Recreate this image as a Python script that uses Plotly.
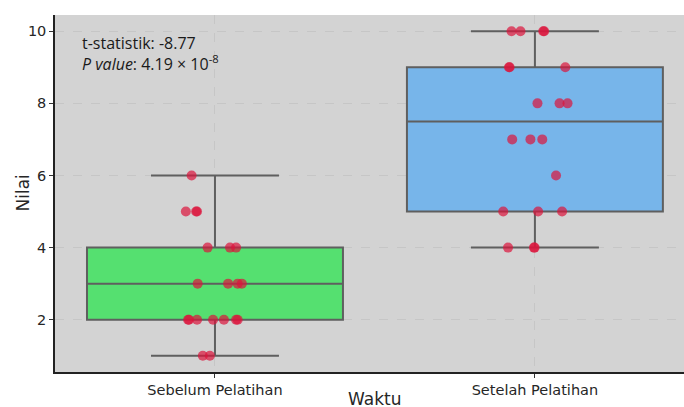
import numpy as np
import plotly.graph_objects as go

# Scores per group
categories = ["Sebelum Pelatihan", "Setelah Pelatihan"]
sebelum = [6, 5, 5, 5, 4, 4, 4, 3, 3, 3, 3, 2, 2, 2, 2, 2, 2, 2, 1, 1]
setelah = [10, 10, 10, 10, 9, 9, 9, 8, 8, 8, 7, 7, 7, 6, 5, 5, 5, 4, 4, 4]

# Horizontal jitter for the strip points (category units)
jitter_sebelum = [-0.073, -0.091, -0.059, -0.056, -0.023, 0.047, 0.066,
                  -0.054, 0.041, 0.071, 0.084,
                  -0.081, -0.084, -0.056, -0.006, 0.028, 0.066, 0.071,
                  -0.038, -0.016]
jitter_setelah = [-0.073, -0.045, 0.026, 0.029,
                  -0.081, -0.079, 0.095,
                  0.008, 0.077, 0.102,
                  -0.071, -0.014, 0.023,
                  0.066,
                  -0.099, 0.010, 0.085,
                  -0.084, -0.003, -0.001]

box_colors = ["#55e070", "#77b5ea"]
t_stat = "-8.77"
p_mant, p_exp = "4.19", "-8"

fig = go.Figure()

groups = [sebelum, setelah]
jitters = [jitter_sebelum, jitter_setelah]

for i, vals in enumerate(groups):
    arr = np.array(vals, dtype=float)
    q1, med, q3 = np.percentile(arr, [25, 50, 75])
    iqr = q3 - q1
    lo = arr[arr >= q1 - 1.5 * iqr].min()
    hi = arr[arr <= q3 + 1.5 * iqr].max()
    fig.add_trace(go.Box(
        x=[i], q1=[q1], median=[med], q3=[q3],
        lowerfence=[lo], upperfence=[hi],
        width=0.8, whiskerwidth=0.5,
        fillcolor=box_colors[i],
        line=dict(color="#5f5f5f", width=2),
        boxpoints=False, showlegend=False, hoverinfo="skip",
    ))

for i, (vals, jit) in enumerate(zip(groups, jitters)):
    fig.add_trace(go.Scatter(
        x=[i + j for j in jit], y=vals, mode="markers",
        marker=dict(size=10, color="rgba(220,20,60,0.7)", line=dict(width=0)),
        showlegend=False,
    ))

fig.add_annotation(
    x=0, y=1, xref="paper", yref="paper", xanchor="left", yanchor="top",
    xshift=25, yshift=-15, align="left", showarrow=False,
    text=(f"t-statistik: {t_stat}<br>"
          f"<i>P value</i>: {p_mant} × 10<sup>{p_exp}</sup>"),
    font=dict(family="Open Sans", size=16, color="#1a1a1a"),
)

# Axis titles, centred on the full axes span (category axis runs to 1.5)
fig.add_annotation(
    x=0.5, y=0, xref="x", yref="paper", xanchor="center", yanchor="middle",
    yshift=-27, showarrow=False, text="Waktu",
    font=dict(family="DejaVu Sans", size=17, color="#262626"),
)
fig.add_annotation(
    x=0, y=0.5, xref="paper", yref="paper", xanchor="center", yanchor="middle",
    xshift=-33, textangle=-90, showarrow=False, text="Nilai",
    font=dict(family="DejaVu Sans", size=17, color="#262626"),
)

fig.update_layout(
    width=684, height=407,
    margin=dict(l=55, r=0, t=15, b=35),
    paper_bgcolor="white", plot_bgcolor="#d3d3d3",
    font=dict(family="DejaVu Sans", color="#262626"),
)

fig.update_xaxes(
    range=[-0.5, 1.466], tickvals=[0, 1], ticktext=categories,
    tickfont=dict(size=14.5), ticks="outside", ticklen=4, tickcolor="#333",
    showline=True, linecolor="#222", linewidth=1.5, mirror=False,
    showgrid=True, gridcolor="#c6c6c6", griddash="dash", gridwidth=1,
    zeroline=False, automargin=False,
)
fig.update_yaxes(
    range=[0.55, 10.45], tickvals=[2, 4, 6, 8, 10],
    tickfont=dict(size=14.5), ticks="outside", ticklen=4, tickcolor="#333",
    showline=True, linecolor="#222", linewidth=1.5, mirror=False,
    showgrid=True, gridcolor="#c6c6c6", griddash="dash", gridwidth=1,
    zeroline=False, automargin=False,
)

fig.write_html("out.html")
